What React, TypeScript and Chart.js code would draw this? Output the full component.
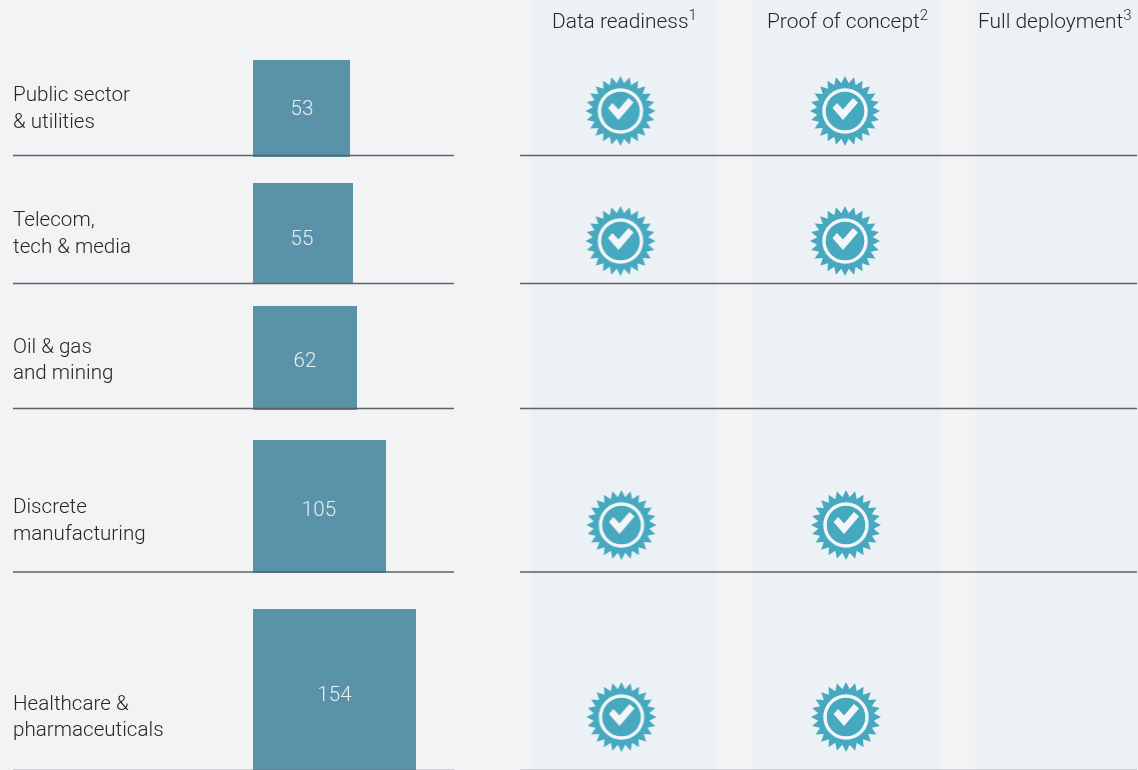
import React, { useEffect, useRef } from "react";
import { Chart, registerables } from "chart.js";

Chart.register(...registerables);

const industries: string[][] = [
  ["Public sector", "& utilities"],
  ["Telecom,", "tech & media"],
  ["Oil & gas", "and mining"],
  ["Discrete", "manufacturing"],
  ["Healthcare &", "pharmaceuticals"],
];
const values = [53, 55, 62, 105, 154];
const barStart = 253;
const barWidths = [97, 100, 104, 133, 163];
const barHeights = [97, 101, 104, 133, 165];
const baselines = [157, 284, 410, 573, 774];
const ruleLevels = [155.5, 283.5, 408.5, 572, 770.4];
const labelLevels = [109.5, 234.5, 361, 521.5, 718];
const valueLevels = [110, 239.5, 362, 510.5, 695.5];
const valueCentres = [302, 302, 305, 319, 334.5];
const columns = ["Data readiness", "Proof of concept", "Full deployment"];
const columnMarks = ["1", "2", "3"];
const headerStarts = [552, 767, 978];
const bandStarts = [530, 753, 975];
const bandEnds = [717, 940, 1138];
const dataReadiness = [1, 1, 0, 1, 1];
const proofOfConcept = [1, 1, 0, 1, 1];
const fullDeployment = [0, 0, 0, 0, 0];
const columnCentres = [620.5, 845];
const badgeLevels = [111, 241, 0, 525, 717];
const badgeShift = [0, 0, 0, 1, 1];

const FONT = "Roboto, 'Liberation Sans', sans-serif";
const WEIGHT = 300;
const SIZE = 20.6;
const HEAD_SIZE = 20.9;
const TEXT = "#262626";
const SPIKES = 24;

function makeBadge(): HTMLCanvasElement {
  const size = 72;
  const c = document.createElement("canvas");
  c.width = size;
  c.height = size;
  const g = c.getContext("2d")!;
  const m = size / 2;
  g.fillStyle = "#47a9bf";
  g.beginPath();
  for (let i = 0; i < SPIKES * 2; i++) {
    const r = i % 2 === 0 ? 35 : 28;
    const a = -Math.PI / 2 + (i * Math.PI) / SPIKES;
    g.lineTo(m + r * Math.cos(a), m + r * Math.sin(a));
  }
  g.closePath();
  g.fill();
  g.strokeStyle = "#f2f6f8";
  g.lineWidth = 3.4;
  g.beginPath();
  g.arc(m, m, 21, 0, Math.PI * 2);
  g.stroke();
  g.fillStyle = "#f2f6f8";
  g.beginPath();
  g.moveTo(m - 12.5, m - 3);
  g.lineTo(m - 8, m - 8);
  g.lineTo(m - 2, m - 1.5);
  g.lineTo(m + 8, m - 13);
  g.lineTo(m + 13, m - 8.5);
  g.lineTo(m - 2, m + 9);
  g.closePath();
  g.fill();
  return c;
}

export default function App() {
  const ref = useRef<HTMLCanvasElement | null>(null);
  useEffect(() => {
    document.body.style.margin = "0";
    document.body.style.background = "#f2f3f5";
    const badge = makeBadge();

    const ruleData = ruleLevels.flatMap((y) => [
      { x: 13, y },
      { x: 454, y },
      { x: 484, y: NaN },
      { x: 520, y },
      { x: 1137, y },
      { x: 1137.5, y: NaN },
    ]);
    const badgePoints = [dataReadiness, proofOfConcept].flatMap((col, ci) =>
      col.flatMap((on, ri) =>
        on ? [{ x: columnCentres[ci] + badgeShift[ri], y: badgeLevels[ri] }] : []
      )
    );
    const fullPoints = fullDeployment.flatMap((on, ri) =>
      on ? [{ x: 1053, y: badgeLevels[ri] }] : []
    );

    const bandSets = bandStarts.map((s, i) => ({
      type: "bar" as const,
      label: columns[i],
      order: 5,
      grouped: false,
      inflateAmount: 0,
      barThickness: bandEnds[i] - s,
      backgroundColor: "#ecf1f5",
      borderWidth: 0,
      data: [{ x: (s + bandEnds[i]) / 2, y: [0, 770] }],
    }));
    const barSets = values.map((v, i) => ({
      type: "bar" as const,
      label: industries[i].join(" "),
      order: 4,
      grouped: false,
      inflateAmount: 0,
      barThickness: barWidths[i],
      backgroundColor: "#5a93a9",
      borderWidth: 0,
      data: [{ x: barStart + barWidths[i] / 2, y: [baselines[i] - barHeights[i], baselines[i]] }],
    }));

    const textPlugin = {
      id: "texts",
      afterDatasetsDraw(chart: any) {
        const { ctx, scales } = chart;
        ctx.save();
        ctx.textBaseline = "alphabetic";
        ctx.textAlign = "left";
        columns.forEach((name, i) => {
          const x = scales.x.getPixelForValue(headerStarts[i]);
          ctx.font = `${WEIGHT} ${HEAD_SIZE}px ${FONT}`;
          ctx.fillStyle = TEXT;
          ctx.fillText(name, x, 28);
          const w = ctx.measureText(name).width;
          ctx.font = `${WEIGHT} 15px ${FONT}`;
          ctx.fillText(columnMarks[i], x + w, 20);
        });
        ctx.textAlign = "center";
        ctx.textBaseline = "middle";
        ctx.font = `${WEIGHT} ${SIZE}px ${FONT}`;
        ctx.fillStyle = "#e6f0f4";
        values.forEach((v, i) => {
          ctx.fillText(
            String(v),
            scales.x.getPixelForValue(valueCentres[i]),
            scales.y.getPixelForValue(valueLevels[i])
          );
        });
        ctx.restore();
      },
    };

    const chart = new Chart(ref.current!, {
      type: "bar",
      data: {
        datasets: [
          ...bandSets,
          ...barSets,
          {
            type: "line" as const,
            label: "Rules",
            order: 2,
            data: ruleData,
            borderColor: "#5f6264",
            borderWidth: 1.4,
            pointRadius: 0,
            spanGaps: false,
            tension: 0,
            clip: false,
          },
          {
            type: "scatter" as const,
            label: "Reached",
            order: 1,
            data: [...badgePoints, ...fullPoints],
            pointStyle: badge,
            pointRadius: 36,
            showLine: false,
          },
        ] as any,
      },
      options: {
        responsive: false,
        animation: false,
        layout: { padding: 0, autoPadding: false },
        plugins: { legend: { display: false }, tooltip: { enabled: false } },
        scales: {
          x: { type: "linear", min: 0, max: 1138, offset: false, display: false },
          y: {
            type: "linear",
            min: 0,
            max: 770,
            reverse: true,
            grid: { display: false, drawTicks: false },
            border: { display: false },
            afterBuildTicks(axis: any) {
              axis.ticks = labelLevels.map((value) => ({ value }));
            },
            afterFit(axis: any) {
              axis.width = 0;
              axis.paddingTop = 0;
              axis.paddingBottom = 0;
              axis.paddingLeft = 0;
              axis.paddingRight = 0;
            },
            ticks: {
              mirror: true,
              padding: 13,
              autoSkip: false,
              color: TEXT,
              font: { family: FONT, size: SIZE, weight: WEIGHT, lineHeight: "26.5px" },
              callback: (value: any) => industries[labelLevels.indexOf(Number(value))],
            },
          },
        },
      } as any,
      plugins: [textPlugin],
    });
    return () => chart.destroy();
  }, []);
  return (
    <canvas
      ref={ref}
      width={1138}
      height={770}
      style={{ display: "block", width: 1138, height: 770, background: "#f2f3f5" }}
    />
  );
}
